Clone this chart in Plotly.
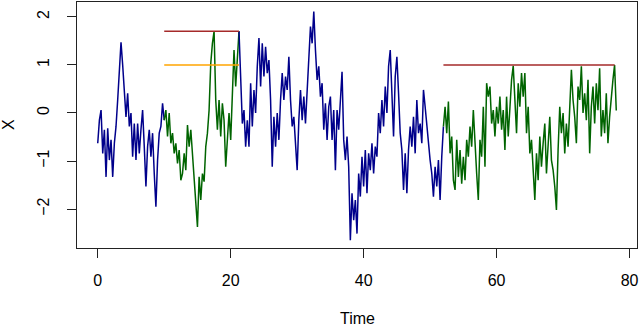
import numpy as np
import plotly.graph_objects as go

dt = 0.25  # sampling step of the path (time units)

# path values, split where the colour changes
blue_1 = [-0.63, -0.15, 0.06, -0.84, -0.35, -1.33, -0.32, -0.98, -0.56, -1.33,
          -0.63, -0.28, 0.27, 1.03, 1.47, 1.0, 0.34, -0.08, 0.41, -0.28,
          0, -0.91, -0.22, -0.98, -0.22, -0.84, -0.35, 0.06, -0.70, -1.53,
          -0.70, -0.35, -0.91, -0.42, -1.26, -1.95, -0.98, -0.42, -0.28, 0.20,
          -0.15]
green_1 = [0.06, -0.49, 0, -0.63, -0.42, -0.84, -0.63, -1.05, -0.77, -1.40,
           -1.26, -0.84, -1.19, -0.25, -0.70, -0.35, -0.84, -1.26, -1.81, -2.37,
           -1.33, -1.81, -1.26, -1.43, -0.70, -0.42, 0.06, 1.03, 1.45, 1.70,
           0.27, -0.35, 0.27, -0.49, 0.20, -0.15, -1.12, -0.42, 0, -0.56,
           0.27, 1.31, 0.55, 1.10, 1.70]
blue_2 = [0.69, -0.22, 0.06, -0.70, -0.15, -0.70, 0.62, -0.28, 0.48, 0,
          0.97, 1.56, 0.55, 1.45, 0.76, 1.38, 0.83, 1.10, 0.27, -1.12,
          -0.08, -0.70, 0, -0.56, 0.27, 0.83, 0.27, 0.76, 0.48, 1.17,
          0.27, -0.28, -0.08, -0.77, -1.19, -0.15, 0.48, -0.15, 0.34, -0.22,
          0.41, 1.10, 1.80, 1.45, 2.11, 1.31, 0.69, 0.97, 0.34, 0.62,
          -0.35, 0.20, -0.56, 0.13, 0.34, -0.56, 0.06, -1.19, 0.06, -0.35,
          0.27, 0.86, -0.56, -0.98, -0.49, -1.12, -2.65, -1.67, -2.23, -1.81,
          -2.51, -1.26, -1.74, -0.91, -1.53, -0.77, -1.67, -0.84, -1.19, -0.63,
          -1.26, -0.70, -0.91, 0, -0.42, 0.27, -0.28, 0.55, 0, 0.97,
          1.31, 0.34, -0.49, 0.76, 1.17, 0.41, -0.42, -0.77, -1.60, -0.84,
          -1.67, -0.77, -0.28, -0.70, -0.08, -0.84, 0.27, -0.42, -0.22, -0.63,
          0.48, 0.13, -0.28, -0.56, -0.98, -1.26, -1.74, -1.12, -1.53, -0.98,
          -1.81, -0.91, -0.28]
green_2 = [0.13, -0.42, 0.24, -0.84, -0.49, -1.40, -1.60, -0.56, -1.33, -0.77,
           -1.47, -0.91, -1.40, -0.56, -0.91, -0.28, -0.70, 0.06, -0.77, -1.26,
           -1.81, -0.56, -0.91, 0.13, -1.12, 0.62, 0.34, 0.55, -0.22, 0.06,
           -0.49, 0.13, -0.22, 0.34, -0.35, 0.06, -0.77, 0.34, -0.49, 0.27,
           0.69, 0.98, 0.27, -0.42, 0.62, 0.13, 0.83, 0.34, 0.83, -0.42,
           0.13, -0.84, -0.56, -1.26, -1.81, -0.84, -1.40, -0.49, -1.12, -0.63,
           -0.22, -1.26, -0.56, -0.08, -0.98, -1.19, -1.53, -2.02, -0.77, 0.13,
           -0.42, 0, -0.84, -0.22, -0.70, 0.06, 0.90, 0.27, -0.08, -0.63,
           0.55, 0.27, 0.97, 0, 0.41, -0.15, 0.69, -0.84, 0.13, 0.55,
           -0.22, 0.62, 0.06, 0.93, -0.49, 0.06, -0.42, 0.41, -0.63, -0.08,
           0.41, 0.69, 1.0, 0.05]

# horizontal reference levels: (y, t_start, t_end, colour)
levels = [(1.70, 10, 21.25, "#a52a2a"),
          (1.0, 10, 21.25, "#ffa500"),
          (1.0, 52, 77.75, "#a52a2a")]

BLUE = "#00008b"
GREEN = "#006400"

path = blue_1 + green_1 + blue_2 + green_2
t = np.arange(len(path)) * dt
seg_colors = [BLUE, GREEN, BLUE, GREEN]

fig = go.Figure()
start = 0
for seg, col in zip([blue_1, green_1, blue_2, green_2], seg_colors):
    lo = max(start - 1, 0)
    hi = start + len(seg)
    fig.add_trace(go.Scatter(x=t[lo:hi], y=path[lo:hi], mode="lines",
                             line=dict(color=col, width=1.5)))
    start = hi

for y, a, b, col in levels:
    fig.add_trace(go.Scatter(x=[a, b], y=[y, y], mode="lines",
                             line=dict(color=col, width=1.5)))

fig.update_layout(
    width=640, height=327,
    margin=dict(l=77, r=3, t=2, b=79),
    plot_bgcolor="white", paper_bgcolor="white",
    showlegend=False,
    font=dict(family="Liberation Sans, Arial, sans-serif", size=16, color="black"),
)
axis_style = dict(showgrid=False, zeroline=False, automargin=False,
                  showline=True, mirror=True, linecolor="#222", linewidth=1,
                  ticks="outside", ticklen=9, tickcolor="#222")
fig.update_xaxes(range=[-3.12, 81.12], tickvals=[0, 20, 40, 60, 80],
                 ticklabelstandoff=9, **axis_style)
fig.update_yaxes(range=[-2.81, 2.31], tickvals=[-2, -1, 0, 1, 2],
                 ticktext=["\u22122", "\u22121", "0", "1", "2"],
                 tickangle=-90, ticklabelstandoff=12, **axis_style)

# axis titles placed like R's outer margin lines
fig.add_annotation(text="Time", xref="paper", yref="paper", x=0.5, y=0,
                   yanchor="middle", yshift=-70, showarrow=False)
fig.add_annotation(text="X", xref="paper", yref="paper", x=0, y=0.5,
                   xanchor="center", xshift=-69, textangle=-90, showarrow=False)

# drop the page's default body margin so the figure sits at the window corner
fig.write_html("out.html", config={"displayModeBar": False},
               post_script="document.body.style.margin='0';")
